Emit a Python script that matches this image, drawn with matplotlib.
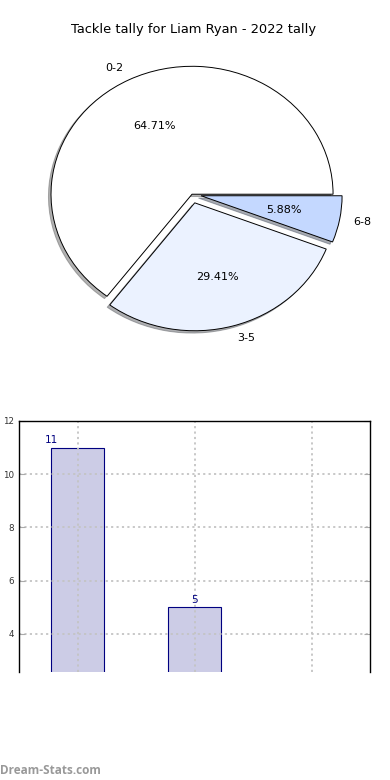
import matplotlib
matplotlib.use('Agg')
import matplotlib.pyplot as plt

# data
categories = ['0-2', '3-5', '6-8']
tallies = [11, 5, 1]
title = 'Tackle tally for Liam Ryan - 2022 tally'
pie_colors = ['#ffffff', '#ebf2ff', '#c4d8ff']
explode = [0.0, 0.07, 0.065]

fig = plt.figure(figsize=(3.9, 7.8), dpi=100)

# pie part
ax_pie = fig.add_axes([0.0404, 0.546, 0.904, 0.410])
ax_pie.pie(tallies, labels=categories, colors=pie_colors, explode=explode,
           autopct='%1.2f%%', startangle=0,
           shadow={'ox': -0.013, 'oy': -0.013, 'shade': 0.6},
           wedgeprops=dict(edgecolor='black', linewidth=0.7),
           textprops=dict(fontsize=8))
ax_pie.set_aspect('auto')
ax_pie.set_xlim(-1.25, 1.25)
ax_pie.set_ylim(-1.25, 1.25)

fig.text(0.497, 1 - 30 / 780.0, title, ha='center', va='center', fontsize=9.4)

# bar part
ax_bar = fig.add_axes([19 / 390.0, 1 - 672 / 780.0, 351 / 390.0, 251 / 780.0])
xpos = list(range(len(tallies)))
width = 0.45
ax_bar.bar(xpos, tallies, width=width, color='#cccce6',
           edgecolor='navy', linewidth=0.8, zorder=1)
for x, v in zip(xpos, tallies):
    # two-digit labels sit at the left edge of the bar, as in the original
    lx = x - width / 2 if v >= 10 else x
    ax_bar.annotate(str(v), (lx, v), xytext=(0, 2),
                    textcoords='offset points', ha='center', va='bottom',
                    fontsize=7.5, color='navy')
ax_bar.set_xlim(-0.5, 2.5)
ax_bar.set_ylim(2.57, 12)
ax_bar.set_yticks([4, 6, 8, 10, 12])
ax_bar.set_xticks(xpos)
ax_bar.set_xticklabels([])
ax_bar.tick_params(axis='x', length=0)
ax_bar.tick_params(axis='y', direction='in', length=4, labelsize=6.3,
                   left=True, right=True, width=0.8, color='#aaaaaa',
                   labelcolor='#333333')
ax_bar.set_axisbelow(False)
ax_bar.grid(True, linestyle=(0, (1.2, 1.8)), color='#c4c4c4', linewidth=1.3, zorder=3)
ax_bar.spines['bottom'].set_visible(False)
for s in ['left', 'right', 'top']:
    ax_bar.spines[s].set_linewidth(1.0)
    ax_bar.spines[s].set_zorder(5)

fig.text(0.0, 1 - 770 / 780.0, 'Dream-Stats.com', ha='left', va='center',
         fontsize=8.5, color='#999999', fontweight='bold', family=['Open Sans', 'DejaVu Sans'])

fig.savefig('out.png', dpi=100)
